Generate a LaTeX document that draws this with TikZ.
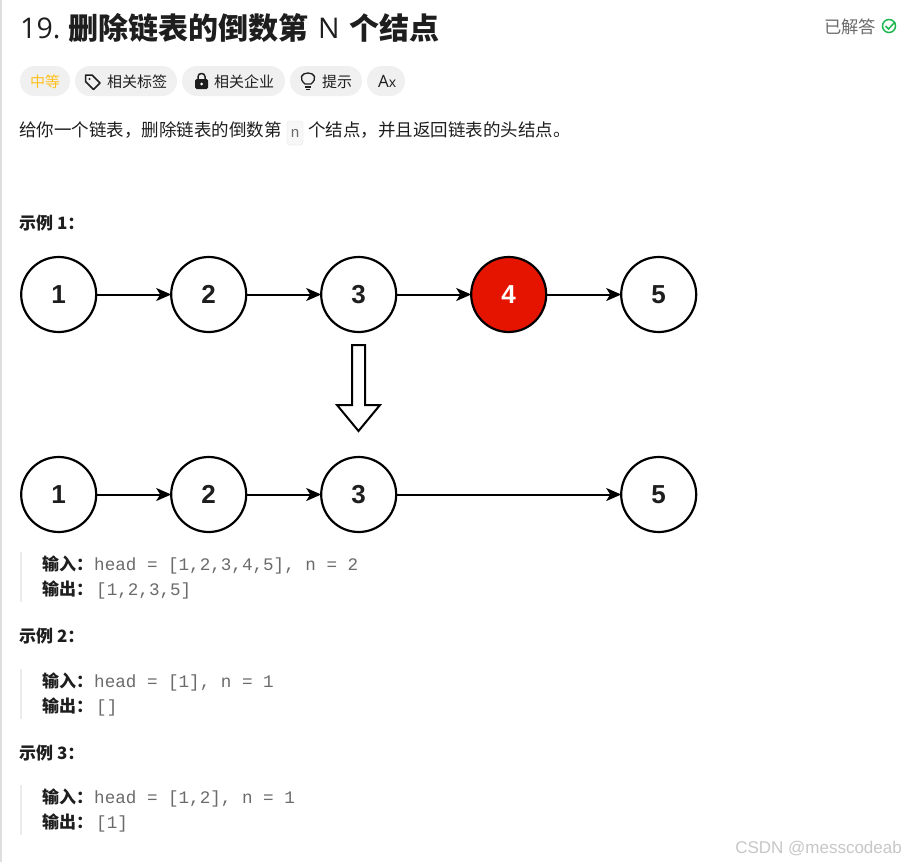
\documentclass[tikz,border=0pt]{standalone}
\usepackage{fontspec}
\usepackage{xcolor}
\setmainfont{Noto Sans CJK SC}
\newfontfamily\latinfont{Open Sans}
\newfontfamily\digitfont{Liberation Sans}
\newfontfamily\codefont{Liberation Mono}
\newcommand{\fs}[1]{\fontsize{#1}{#1}\selectfont}
\definecolor{inkblack}{HTML}{1E1E1E}
\definecolor{pillgray}{HTML}{F0F0F0}
\definecolor{codegray}{HTML}{6B6B6B}
\definecolor{nodered}{HTML}{E51400}
\definecolor{barrgray}{HTML}{EBEBEB}
\definecolor{easyyellow}{HTML}{FFC01E}
\definecolor{donegreen}{HTML}{1CB84F}
\usetikzlibrary{arrows.meta,positioning}

\begin{document}
\begin{tikzpicture}[
    x=1pt, y=-1pt,
    node distance=75pt,
    listnode/.style={circle, draw=black, fill=white, line width=2.2pt, minimum size=75pt,
                     inner sep=0pt, outer sep=0pt, font=\digitfont\fs{26}\bfseries, text=inkblack},
    rednode/.style={listnode, fill=nodered, text=white},
    arrow/.style={-{Stealth[length=15pt, width=13pt, inset=4pt]}, line width=2pt, black},
    bigarrow/.style={draw=black, fill=white, line width=2pt, line join=miter},
    title/.style={anchor=base west, inner sep=0pt, text=inkblack, font=\fs{30}\bfseries},
    body/.style={anchor=base west, inner sep=0pt, text=inkblack, font=\fs{17.5}},
    heading/.style={anchor=base west, inner sep=0pt, text=inkblack, font=\fs{17}\bfseries},
    code/.style={anchor=base west, inner sep=0pt, text=codegray, font=\codefont\fs{17.6}},
    pill/.style={rectangle, fill=pillgray, minimum height=30pt, rounded corners=14.9pt, inner sep=0pt},
    pilltext/.style={anchor=base west, inner sep=0pt, text=inkblack, font=\fs{15}},
    quotebar/.style={rectangle, fill=barrgray, minimum width=2pt, inner sep=0pt},
    icon/.style={draw=inkblack, line width=1.5pt, line join=round}
]
\useasboundingbox (0,0) rectangle (905,862);
\fill[white] (0,0) rectangle (905,862);
\fill[black!13] (0,0) rectangle (1.5,862);

\node[title, font=\latinfont\fs{28.5}] (num) at (20,38) {19.};
\node[title] (name) at (68,39) {删除链表的倒数第};
\node[title, font=\latinfont\fs{28.5}] (big) at (318,38) {N};
\node[title] (rest) at (349,39) {个结点};
\node[body, text=codegray, font=\fs{17.3}] (done) at (824,33) {已解答};
\node[circle, draw=donegreen, line width=1.5pt, minimum size=13pt, inner sep=0pt] (check) at (889,26) {};
\draw[donegreen, line width=1.5pt] (885.5,26) -- (888.5,29) -- (895,22);

\node[pill, minimum width=50pt] (easy) at (45,81) {};
\node[pill, minimum width=102pt] (tags) at (126,81) {};
\node[pill, minimum width=103pt] (firms) at (233.5,81) {};
\node[pill, minimum width=72pt] (hint) at (326,81) {};
\node[pill, minimum width=38pt] (lang) at (386,81) {};
\node[pilltext, text=easyyellow] (easytext) at (30,87) {中等};
\node[pilltext] (tagstext) at (107,87) {相关标签};
\node[pilltext] (firmstext) at (214,87) {相关企业};
\node[pilltext] (hinttext) at (322,87) {提示};
\node[pilltext, font=\latinfont\fs{17}] (langtext) at (378,87) {A\fs{14}x};

% icons
\draw[icon] (85.5,75) -- (92,75) -- (100,83) -- (93.5,89.5) -- (85.5,81.5) -- cycle;
\fill[inkblack] (89.5,79) circle (1.2pt);
\fill[inkblack, rounded corners=1.5pt] (195,79) rectangle (208,89);
\draw[icon] (198,79) -- (198,76.5) .. controls (198,72.5) and (205,72.5) .. (205,76.5) -- (205,79);
\fill[white] (201.5,84) circle (1.5pt);
\draw[icon, line width=1.3pt] (305,84) .. controls (298,78) and (302,73) .. (308,73)
    .. controls (314,73) and (318,78) .. (311,84) -- cycle;
\draw[icon, line width=1.3pt] (305,87) -- (311,87) (306,89.5) -- (310,89.5);

\node[body] (intro) at (19,136) {给你一个链表，删除链表的倒数第};
\node[rectangle, draw=black!10, fill=black!3, rounded corners=3pt, minimum width=16pt,
      minimum height=24pt, inner sep=0pt] (chip) at (295,133) {};
\node[code, font=\codefont\fs{15}] (chipn) at (290.5,137) {n};
\node[body] (outro) at (308,136) {个结点，并且返回链表的头结点。};

\node[heading] (ex1) at (19,229) {示例 1：};

\node[listnode] (a1) at (58.7,294.5) {1};
\node[listnode, right=of a1] (a2) {2};
\node[listnode, right=of a2] (a3) {3};
\node[rednode, right=of a3] (a4) {4};
\node[listnode, right=of a4] (a5) {5};

\node[listnode, below=125pt of a1] (b1) {1};
\node[listnode, right=of b1] (b2) {2};
\node[listnode, right=of b2] (b3) {3};
\node[listnode, right=225pt of b3] (b5) {5};

\draw[arrow] (a1) -- (a2);
\draw[arrow] (a2) -- (a3);
\draw[arrow] (a3) -- (a4);
\draw[arrow] (a4) -- (a5);
\draw[arrow] (b1) -- (b2);
\draw[arrow] (b2) -- (b3);
\draw[arrow] (b3) -- (b5);

\draw[bigarrow] (352,345) -- (365,345) -- (365,405) -- (380,405) -- (358.5,431)
    -- (337,405) -- (352,405) -- cycle;

\node[quotebar, minimum height=50pt] (bar1) at (21,577) {};
\node[heading] (in1) at (42,570) {输入：};
\node[code] (in1val) at (94,570) {head = [1,2,3,4,5], n = 2};
\node[heading] (out1) at (42,595) {输出：};
\node[code] (out1val) at (96,595) {[1,2,3,5]};

\node[heading] (ex2) at (19,642) {示例 2：};
\node[quotebar, minimum height=50pt] (bar2) at (21,694) {};
\node[heading] (in2) at (42,687) {输入：};
\node[code] (in2val) at (94,687) {head = [1], n = 1};
\node[heading] (out2) at (42,712) {输出：};
\node[code] (out2val) at (96,712) {[]};

\node[heading] (ex3) at (19,759) {示例 3：};
\node[quotebar, minimum height=50pt] (bar3) at (21,810) {};
\node[heading] (in3) at (42,803) {输入：};
\node[code] (in3val) at (94,803) {head = [1,2], n = 1};
\node[heading] (out3) at (42,828) {输出：};
\node[code] (out3val) at (96,828) {[1]};

\node[anchor=base east, inner sep=0pt, text=black!22, font=\digitfont\fs{17}] (mark) at (902,853) {CSDN @messcodeab};
\end{tikzpicture}
\end{document}
